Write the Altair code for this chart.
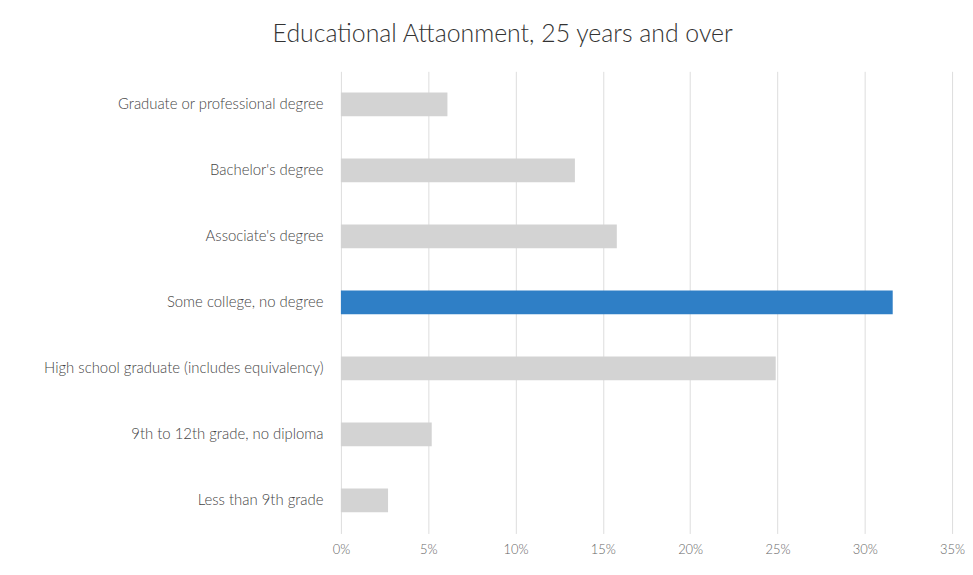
import altair as alt
import pandas as pd

categories = [
    "Graduate or professional degree",
    "Bachelor's degree",
    "Associate's degree",
    "Some college, no degree",
    "High school graduate (includes equivalency)",
    "9th to 12th grade, no diploma",
    "Less than 9th grade",
]
values = [6.1, 13.4, 15.8, 31.6, 24.9, 5.2, 2.7]
highlighted = "Some college, no degree"
x_ticks = [0, 5, 10, 15, 20, 25, 30, 35]

df = pd.DataFrame({"category": categories, "value": values})
df["hl"] = ["yes" if c == highlighted else "no" for c in categories]

FONT = "Lato"

chart = (
    alt.Chart(df)
    .mark_bar(size=24)
    .encode(
        y=alt.Y(
            "category:N",
            sort=categories,
            title=None,
            axis=alt.Axis(
                ticks=False,
                domain=False,
                labelPadding=18,
                labelFontSize=15,
                labelColor="#444444",
                labelFont=FONT,
                labelFontWeight=300,
                labelLimit=400,
                minExtent=330,
                maxExtent=330,
                grid=False,
            ),
        ),
        x=alt.X(
            "value:Q",
            title=None,
            scale=alt.Scale(domain=[0, 35], nice=False),
            axis=alt.Axis(
                values=x_ticks,
                labelExpr="datum.value + '%'",
                ticks=False,
                domain=False,
                grid=True,
                gridColor="#dddddd",
                labelPadding=10,
                labelFlush=False,
                labelFontSize=13,
                labelColor="#666666",
                labelFont=FONT,
                labelFontWeight=300,
            ),
        ),
        color=alt.Color(
            "hl:N",
            scale=alt.Scale(domain=["yes", "no"], range=["#2f7fc6", "#d3d3d3"]),
            legend=None,
        ),
    )
    .properties(
        width=615,
        height=465,
        padding={"left": 5, "top": 12, "right": 0, "bottom": 5},
        title=alt.TitleParams(
            "Educational Attaonment, 25 years and over",
            anchor="middle",
            frame="bounds",
            dx=14,
            fontSize=25,
            font=FONT,
            fontWeight=300,
            color="#333333",
            offset=25,
        ),
    )
    .configure_view(stroke=None)
)

chart.save("out.html", embed_options={"renderer": "svg", "actions": False})
